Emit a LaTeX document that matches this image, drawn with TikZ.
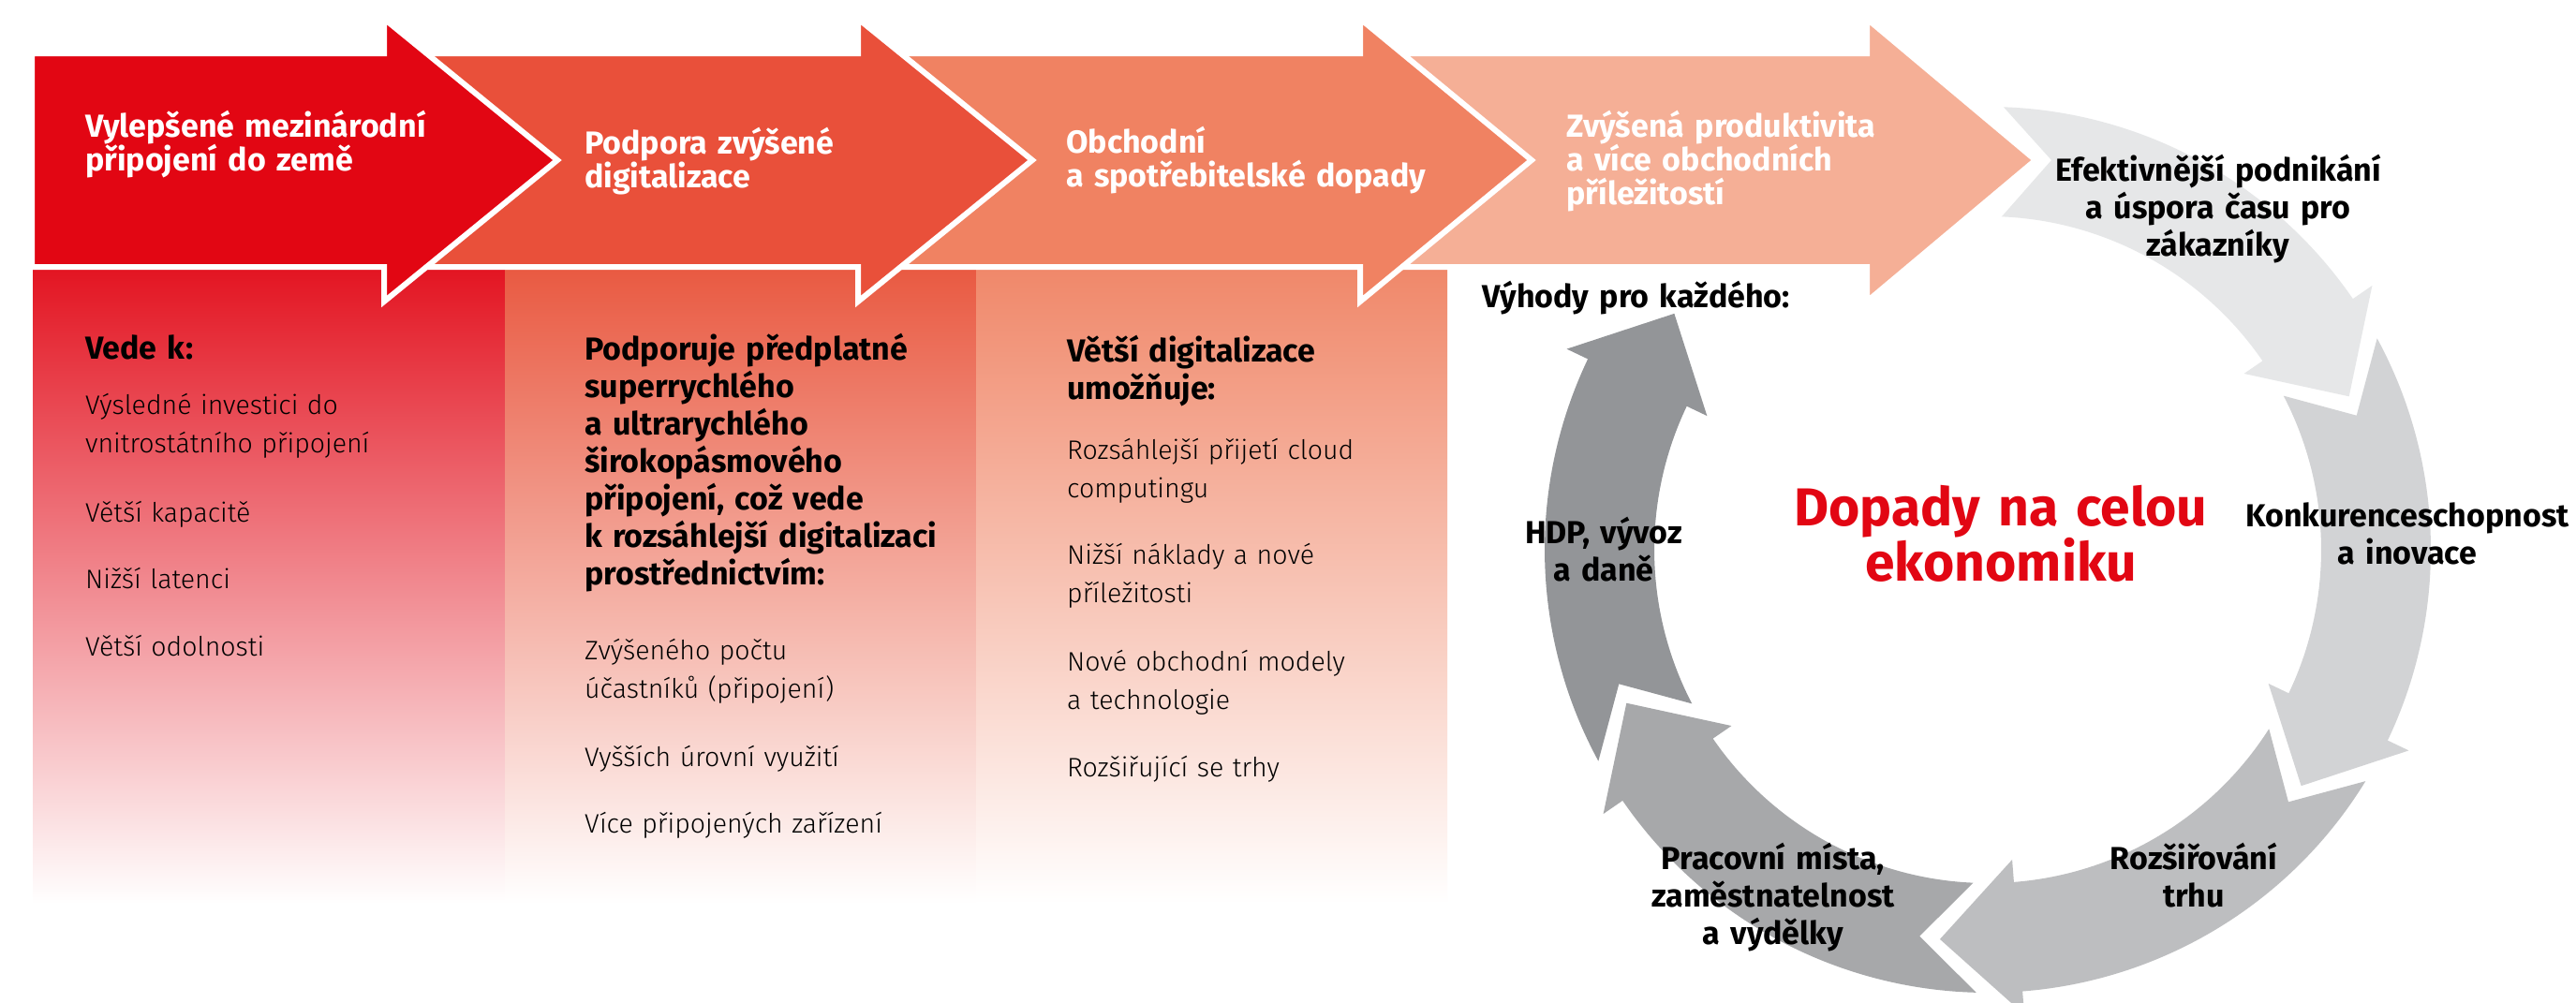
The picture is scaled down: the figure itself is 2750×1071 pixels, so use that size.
\documentclass[tikz,border=0pt]{standalone}
\usepackage{fontspec}
\setmainfont{Fira Sans}
\IfFontExistsTF{Fira Sans Light}
  {\newfontfamily\lightfont{Fira Sans Light}}
  {\newfontfamily\lightfont{Fira Sans}}

\definecolor{vfred}{HTML}{E20613}
\definecolor{chevB}{HTML}{E9503A}
\definecolor{chevC}{HTML}{F08262}
\definecolor{chevD}{HTML}{F5AF96}
\definecolor{panA}{HTML}{E31522}
\definecolor{panB}{HTML}{E95A42}
\definecolor{panC}{HTML}{F0886A}
\definecolor{ringA}{HTML}{E6E7E8}
\definecolor{ringB}{HTML}{D2D3D5}
\definecolor{ringC}{HTML}{BDBEC0}
\definecolor{ringD}{HTML}{A7A8AA}
\definecolor{ringE}{HTML}{939598}

\tikzset{
  chevron/.style={draw=white, line width=6pt},
  ttl/.style={inner sep=0pt, anchor=base west, text width=560pt, align=left,
    text=white, font=\bfseries\fontsize{34}{36}\selectfont},
  hd/.style={inner sep=0pt, anchor=base west, text width=560pt, align=left,
    text=black, font=\bfseries\fontsize{34}{40}\selectfont},
  itm/.style={inner sep=0pt, anchor=base west, text width=560pt, align=left,
    text=black, font=\lightfont\fontsize{28.5}{41}\selectfont},
  lbl/.style={inner sep=0pt, anchor=base, text width=420pt, align=center,
    text=black, font=\bfseries\fontsize{34}{40}\selectfont},
  big/.style={inner sep=0pt, anchor=base, text width=600pt, align=center,
    text=vfred, font=\bfseries\fontsize{57}{58}\selectfont},
}

\begin{document}
\begin{tikzpicture}[x=1pt, y=1pt]
\useasboundingbox[fill=white] (0,0) rectangle (2750,-1071);

% gradient columns under the chevrons
\shade[top color=panA, bottom color=white] (35,-287) rectangle (539,-965);
\shade[top color=panB, bottom color=white] (539,-287) rectangle (1042,-965);
\shade[top color=panC, bottom color=white] (1042,-287) rectangle (1545,-965);

% chevron arrows, drawn right to left so each head overlaps the next body
\path[chevron, fill=chevD] (1452,-57) -- (1993,-57) -- (1993,-20) -- (2173,-171)
  -- (1993,-322) -- (1993,-285) -- (1452,-285) -- cycle;
\path[chevron, fill=chevC] (916,-57) -- (1452,-57) -- (1452,-20) -- (1635,-171)
  -- (1452,-322) -- (1452,-285) -- (916,-285) -- cycle;
\path[chevron, fill=chevB] (410,-57) -- (916,-57) -- (916,-20) -- (1102,-171)
  -- (916,-322) -- (916,-285) -- (410,-285) -- cycle;
\path[chevron, fill=vfred] (34,-57) -- (410,-57) -- (410,-20) -- (595,-171)
  -- (410,-322) -- (410,-285) -- (34,-285) -- cycle;

% circular cycle of five curved arrows
\begin{scope}[shift={(2122,-587)}]
  \fill[ringA] (87.95:473) arc[start angle=87.95, end angle=34.5, radius=473]
    -- (34.5:498) -- (23:419) -- (34.5:332) -- (34.5:356)
    arc[start angle=34.5, end angle=87.6, radius=356] -- (68,416) -- cycle;
  \fill[ringB] (28.5:473) arc[start angle=28.5, end angle=-25.5, radius=473]
    -- (-25.5:498) -- (-37:419) -- (-25.5:332) -- (-25.5:356)
    arc[start angle=-25.5, end angle=27.5, radius=356] -- (20:419) -- cycle;
  \fill[ringC] (-31.5:473) arc[start angle=-31.5, end angle=-85.5, radius=473]
    -- (-85.5:498) -- (-97:419) -- (-85.5:332) -- (-85.5:356)
    arc[start angle=-85.5, end angle=-32.5, radius=356] -- (-40:419) -- cycle;
  \fill[ringD] (-91.5:473) arc[start angle=-91.5, end angle=-145.5, radius=473]
    -- (-145.5:498) -- (-157:419) -- (-145.5:332) -- (-145.5:356)
    arc[start angle=-145.5, end angle=-92.5, radius=356] -- (-100:419) -- cycle;
  \fill[ringE] (-151.5:473) arc[start angle=-151.5, end angle=-205.5, radius=473]
    -- (-205.5:498) -- (-217:419) -- (-205.5:332) -- (-205.5:356)
    arc[start angle=-205.5, end angle=-152.5, radius=356] -- (-160:419) -- cycle;
\end{scope}

% chevron titles
\node[ttl] (t1) at (91,-146) {Vylepšené mezinárodní\\připojení do země};
\node[ttl] (t2) at (624,-164) {Podpora zvýšené\\digitalizace};
\node[ttl] (t3) at (1138,-163) {Obchodní\\a spotřebitelské dopady};
\node[ttl] (t4) at (1672,-146) {Zvýšená produktivita\\a více obchodních\\příležitostí};

% column headings
\node[hd] (h1) at (91,-383) {Vede k:};
\node[hd] (h2) at (624,-384) {Podporuje předplatné\\superrychlého\\a ultrarychlého\\širokopásmového\\připojení, což vede\\k rozsáhlejší digitalizaci\\prostřednictvím:};
\node[hd] (h3) at (1139,-386) {Větší digitalizace\\umožňuje:};

% column items
\node[itm] (i11) at (91,-442) {Výsledné investici do\\vnitrostátního připojení};
\node[itm] (i12) at (91,-557) {Větší kapacitě};
\node[itm] (i13) at (91,-628) {Nižší latenci};
\node[itm] (i14) at (91,-700) {Větší odolnosti};
\node[itm] (i21) at (624,-704) {Zvýšeného počtu\\účastníků (připojení)};
\node[itm] (i22) at (624,-818) {Vyšších úrovní využití};
\node[itm] (i23) at (624,-889) {Více připojených zařízení};
\node[itm] (i31) at (1139,-490) {Rozsáhlejší přijetí cloud\\computingu};
\node[itm] (i32) at (1139,-602) {Nižší náklady a nové\\příležitosti};
\node[itm] (i33) at (1139,-716) {Nové obchodní modely\\a technologie};
\node[itm] (i34) at (1139,-829) {Rozšiřující se trhy};

% cycle labels
\node[hd] (vyh) at (1582,-328) {Výhody pro každého:};
\node[lbl] (l1) at (2368,-193) {Efektivnější podnikání\\a úspora času pro\\zákazníky};
\node[lbl] (l2) at (2570,-562) {Konkurenceschopnost\\a inovace};
\node[lbl] (l3) at (2342,-928) {Rozšiřování\\trhu};
\node[lbl] (l4) at (1893,-928) {Pracovní místa,\\zaměstnatelnost\\a výdělky};
\node[lbl] (l5) at (1712,-580) {HDP, vývoz\\a daně};
\node[big] (ctr) at (2136,-561) {Dopady na celou\\ekonomiku};
\end{tikzpicture}
\end{document}
